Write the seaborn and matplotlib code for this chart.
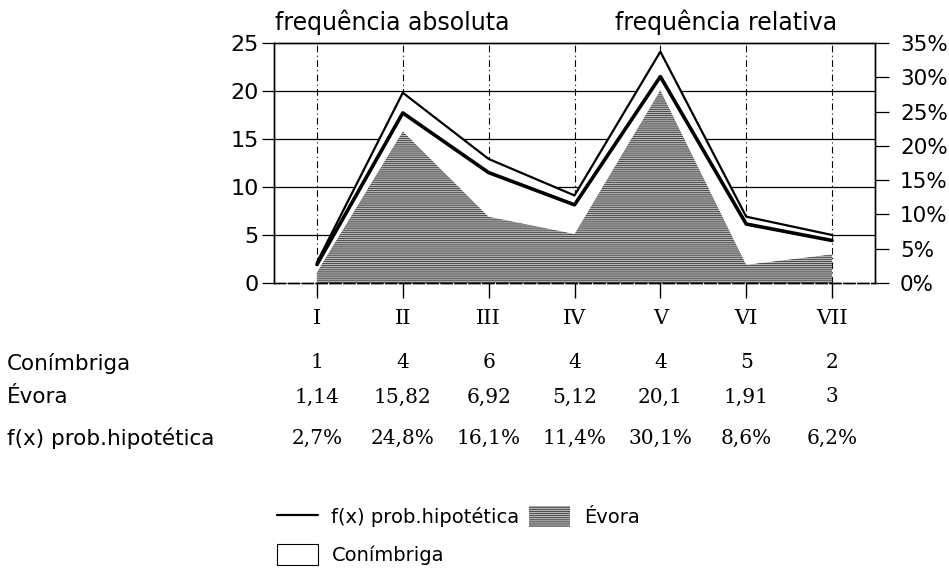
import numpy as np
import pandas as pd
import matplotlib
matplotlib.use("Agg")
import matplotlib.pyplot as plt
import seaborn as sns
from matplotlib.lines import Line2D
from matplotlib.patches import Patch
import matplotlib.transforms as mtransforms

# ---- data ----
categories = ["I", "II", "III", "IV", "V", "VI", "VII"]
conimbriga = [1, 4, 6, 4, 4, 5, 2]
evora = [1.14, 15.82, 6.92, 5.12, 20.1, 1.91, 3]
fx_prob = [2.7, 24.8, 16.1, 11.4, 30.1, 8.6, 6.2]
left_ticks = [0, 5, 10, 15, 20, 25]
right_ticks = [0, 5, 10, 15, 20, 25, 30, 35]

sns.set_theme(style="white")
plt.rcParams["font.family"] = ["DejaVu Sans"]
plt.rcParams["text.color"] = "black"
plt.rcParams["xtick.color"] = "black"
plt.rcParams["ytick.color"] = "black"
plt.rcParams["axes.labelcolor"] = "black"
plt.rcParams["hatch.color"] = "#3a3a3a"
plt.rcParams["hatch.linewidth"] = 0.6

df = pd.DataFrame({
    "cat": categories,
    "x": np.arange(len(categories)),
    "evora": evora,
    "conimbriga": conimbriga,
    "fx": fx_prob,
})
df["total"] = df["evora"] + df["conimbriga"]

fig = plt.figure(figsize=(9.49, 5.72), dpi=100)
ax = fig.add_axes([274 / 949, 1 - 283 / 572, (875 - 274) / 949, (283 - 43) / 572])
ax2 = ax.twinx()

EV_FACE = "#b8b8b8"
# Stacked areas
ax.fill_between(df["x"], 0, df["evora"], facecolor=EV_FACE, hatch="--------",
                edgecolor="#3a3a3a", linewidth=0, zorder=2)
ax.fill_between(df["x"], df["evora"], df["total"], facecolor="white",
                edgecolor="none", zorder=2)
sns.lineplot(data=df, x="x", y="total", ax=ax, color="black", linewidth=1.6,
             zorder=3, legend=False)

# f(x) line on right axis
sns.lineplot(data=df, x="x", y="fx", ax=ax2, color="black", linewidth=2.6,
             legend=False)

ax.set_xlim(-0.5, len(categories) - 0.5)
ax.set_ylim(0, 25)
ax2.set_ylim(0, 35)
ax.set_xlabel("")
ax.set_ylabel("")
ax2.set_xlabel("")
ax2.set_ylabel("")

# grid
for y in left_ticks[1:-1]:
    ax.axhline(y, color="black", linewidth=0.9, zorder=1)
for xi in df["x"]:
    ax.axvline(xi, color="black", linewidth=0.8, linestyle=(0, (6, 3, 1, 3)), zorder=1)

ax.set_xticks(df["x"])
ax.set_xticklabels(categories, fontsize=15, family="DejaVu Serif")
ax.set_yticks(left_ticks)
ax.set_yticklabels([str(t) for t in left_ticks], fontsize=16)
ax2.set_yticks(right_ticks)
ax2.set_yticklabels([f"{t}%" for t in right_ticks], fontsize=15.5)

ax.tick_params(axis="x", direction="out", length=11, width=1.0, color="black", pad=8,
               bottom=True)
ax.tick_params(axis="y", direction="out", length=9, width=0.9, color="black", pad=2,
               left=True)
ax2.tick_params(axis="y", direction="out", length=10, width=0.9, color="black", pad=8,
                right=True)

for a in (ax, ax2):
    for s in a.spines.values():
        s.set_color("black")
        s.set_linewidth(1.0)
    a.spines["bottom"].set_linestyle((0, (8, 2)))
ax2.set_zorder(ax.get_zorder() + 1)
ax2.patch.set_visible(False)

# titles
fig.text(275 / 949, 1 - 22 / 572, "frequência absoluta", fontsize=17, va="center", ha="left")
fig.text(615 / 949, 1 - 22 / 572, "frequência relativa", fontsize=17, va="center", ha="left")

# data table below the chart
trans = mtransforms.blended_transform_factory(ax.transData, fig.transFigure)
rows = [
    ("Conímbriga", [f"{v:g}" for v in conimbriga], 363),
    ("Évora", [f"{v:g}".replace(".", ",") for v in evora], 397),
    ("f(x) prob.hipotética", [f"{v:.1f}%".replace(".", ",") for v in fx_prob], 438),
]
for label, vals, ypix in rows:
    fig.text(7 / 949, 1 - ypix / 572, label, fontsize=15.5, va="center", ha="left")
    for xi, v in zip(df["x"], vals):
        fig.text(xi, 1 - ypix / 572, v, transform=trans, fontsize=14.5,
                 va="center", ha="center", family="DejaVu Serif")

# legend
handles = [
    Line2D([0], [0], color="black", linewidth=1.6),
    Patch(facecolor="white", edgecolor="black", linewidth=0.8),
    Patch(facecolor=EV_FACE, edgecolor="#3a3a3a", hatch="--------", linewidth=0),
]
labels = ["f(x) prob.hipotética", "Conímbriga", "Évora"]
leg = fig.legend(handles, labels, loc="upper left",
                 bbox_to_anchor=(277 / 949, 1 - 506 / 572), ncol=2, frameon=False,
                 fontsize=14, handlelength=2.1, handleheight=1.3, handletextpad=0.7,
                 columnspacing=0.5, labelspacing=0.85, borderaxespad=0, borderpad=0)

fig.savefig("out.png", dpi=100)
